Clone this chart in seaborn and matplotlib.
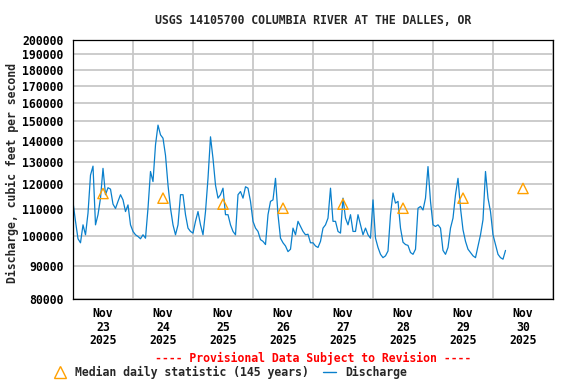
import numpy as np
import pandas as pd
import matplotlib
matplotlib.use("Agg")
import matplotlib.pyplot as plt
import matplotlib.dates as mdates
from matplotlib.ticker import FixedLocator, FixedFormatter, NullLocator
from matplotlib.lines import Line2D
import seaborn as sns

# ---- data (hourly discharge, cfs) ----
discharge_nov23 = [112700, 105300, 99000, 97600, 104000, 100400, 108400, 124000, 128000, 104000, 107800, 114300,
                   127000, 115700, 118600, 118000, 111900, 110200, 113000, 115700, 113600, 109000, 111600, 104000]
discharge_nov24 = [101600, 100400, 99800, 99000, 100400, 99200, 110300, 125600, 121200, 138000, 148000, 143000,
                   141300, 133000, 119700, 110300, 104000, 100400, 104000, 115700, 115700, 107800, 102800, 101600]
discharge_nov25 = [101000, 105300, 109000, 104000, 100400, 109000, 122600, 142000, 131500, 119700, 114300, 115700,
                   118400, 107800, 107800, 104000, 101600, 100400, 115700, 117000, 114300, 119000, 118400, 113000]
discharge_nov26 = [105300, 102800, 101600, 98700, 98100, 97000, 107800, 113000, 113600, 122600, 107800, 99200,
                   97600, 96500, 94600, 95400, 102800, 100400, 105300, 103400, 101600, 100400, 100600, 97600]
discharge_nov27 = [97600, 96500, 96000, 98100, 102800, 104000, 106500, 118400, 105300, 105300, 101600, 101000,
                   114300, 106500, 104000, 107800, 101600, 101600, 107800, 104000, 100400, 102800, 100400, 99200]
discharge_nov28 = [113600, 99200, 96000, 93700, 92600, 93200, 94800, 107800, 116400, 112300, 113000, 102800,
                   97800, 97000, 96700, 94300, 93700, 95400, 110300, 111000, 109600, 114300, 127800, 113000]
discharge_nov29 = [104000, 103400, 104000, 102800, 95000, 93700, 96000, 102800, 106500, 115700, 122600, 110300,
                   102200, 98100, 95400, 94300, 93200, 92600, 96500, 100400, 105900, 125600, 114300, 109000]
discharge_nov30 = [100400, 97000, 93700, 92600, 92100, 95000]

median_values = [116200, 114300, 111900, 110300, 111900, 110300, 114300, 118300]
day_labels = ["Nov\n23\n2025", "Nov\n24\n2025", "Nov\n25\n2025", "Nov\n26\n2025",
              "Nov\n27\n2025", "Nov\n28\n2025", "Nov\n29\n2025", "Nov\n30\n2025"]
y_ticks = [80000, 90000, 100000, 110000, 120000, 130000, 140000, 150000,
           160000, 170000, 180000, 190000, 200000]

title = "USGS 14105700 COLUMBIA RIVER AT THE DALLES, OR"
ylabel = "Discharge, cubic feet per second"

discharge = (discharge_nov23 + discharge_nov24 + discharge_nov25 + discharge_nov26 +
             discharge_nov27 + discharge_nov28 + discharge_nov29 + discharge_nov30)
times = pd.date_range("2025-11-23 00:00", periods=len(discharge), freq="h")
median_times = pd.date_range("2025-11-23 12:00", periods=len(median_values), freq="D")
df = pd.DataFrame({"time": times, "discharge": discharge})
dm = pd.DataFrame({"time": median_times, "median": median_values})

sns.set_theme(style="white")
plt.rcParams["font.family"] = ["DejaVu Sans Mono"]
plt.rcParams["font.weight"] = "bold"
FS = 8.3

fig = plt.figure(figsize=(5.76, 3.84), dpi=100)
ax = fig.add_axes([73 / 576, 1 - 299 / 384, 480 / 576, 259 / 384])

LINE_C = "#0a80cc"
TRI_C = "#ffa000"

sns.lineplot(data=df, x="time", y="discharge", ax=ax, color=LINE_C, linewidth=0.9,
             estimator=None, legend=False)
sns.scatterplot(data=dm, x="time", y="median", ax=ax, marker="^", s=55,
                facecolor="none", edgecolor=TRI_C, linewidth=1.0, legend=False, zorder=5)

ax.set_yscale("log")
ax.set_ylim(80000, 200000)
ax.yaxis.set_major_locator(FixedLocator(y_ticks))
ax.yaxis.set_major_formatter(FixedFormatter([str(v) for v in y_ticks]))
ax.yaxis.set_minor_locator(NullLocator())

start = pd.Timestamp("2025-11-23 00:00")
end = pd.Timestamp("2025-12-01 00:00")
ax.set_xlim(start, end)
ax.xaxis.set_major_locator(mdates.DayLocator())
ax.xaxis.set_major_formatter(plt.NullFormatter())
ax.xaxis.set_minor_locator(FixedLocator(mdates.date2num(median_times)))
ax.xaxis.set_minor_formatter(FixedFormatter(day_labels))

ax.grid(True, which="major", axis="both", color="#c8c8c8", linewidth=1.3)
ax.set_axisbelow(True)
ax.tick_params(axis="both", which="both", length=0, labelsize=FS, colors="black")
ax.tick_params(axis="x", which="minor", pad=6)
ax.tick_params(axis="y", pad=7)
for lab in ax.get_xticklabels(minor=True):
    lab.set_fontweight("bold")
    lab.set_linespacing(1.05)
for lab in ax.get_yticklabels():
    lab.set_fontweight("bold")
for s in ax.spines.values():
    s.set_color("black")
    s.set_linewidth(0.9)
ax.set_xlabel("")
ax.set_ylabel("")

fig.text(313 / 576, 1 - 20 / 384, title, ha="center", va="center", fontsize=FS, fontweight="bold")
fig.text(12 / 576, 1 - 173 / 384, ylabel, ha="center", va="center", rotation=90,
         fontsize=FS, fontweight="bold")
fig.text(313 / 576, 1 - 358 / 384, "---- Provisional Data Subject to Revision ----",
         ha="center", va="center", fontsize=FS, fontweight="bold", color="red")

handles = [Line2D([], [], marker="^", linestyle="none", markersize=8, markerfacecolor="none",
                  markeredgecolor=TRI_C, markeredgewidth=1.0),
           Line2D([], [], color=LINE_C, linewidth=1.0)]
fig.legend(handles, ["Median daily statistic (145 years)", "Discharge"],
           loc="center left", bbox_to_anchor=(54 / 576, 1 - 372 / 384), ncol=2, frameon=False,
           fontsize=FS, handlelength=1.1, handletextpad=0.75, columnspacing=1.25,
           borderpad=0, borderaxespad=0)

fig.savefig("out.png", dpi=100)
